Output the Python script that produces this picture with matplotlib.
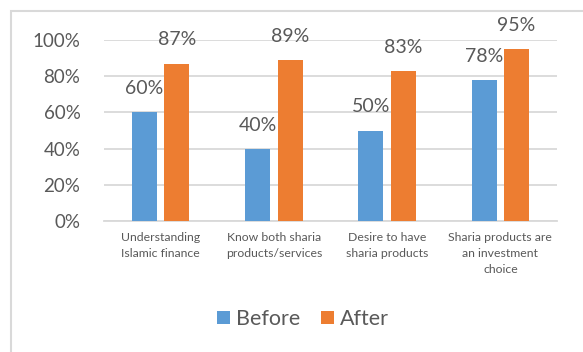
import matplotlib
matplotlib.use("Agg")
import matplotlib.pyplot as plt
from matplotlib.patches import Rectangle
import numpy as np

# data
categories = ["Understanding\nIslamic finance",
              "Know both sharia\nproducts/services",
              "Desire to have\nsharia products",
              "Sharia products are\nan investment\nchoice"]
before = [0.60, 0.40, 0.50, 0.78]
after = [0.87, 0.89, 0.83, 0.95]
yticks = [0, 0.2, 0.4, 0.6, 0.8, 1.0]
ytick_labels = ["0%", "20%", "40%", "60%", "80%", "100%"]

blue = "#5B9BD5"
orange = "#ED7D31"
txt = "#595959"
grid = "#D9D9D9"

plt.rcParams["font.family"] = ["Lato", "DejaVu Sans"]

fig = plt.figure(figsize=(5.83, 3.52), dpi=100)

# light grey chart frame (clipped at right/bottom like the screenshot)
fig.patches.append(Rectangle((11 / 583, -0.1), 1.2, 1 - 11 / 352 + 0.1,
                             transform=fig.transFigure, fill=False,
                             edgecolor="#D9D9D9", linewidth=1.5))

ax = fig.add_axes([104 / 583, 1 - 221 / 352, (557 - 104) / 583, (221 - 40) / 352])

x = np.arange(len(categories))
w = 0.22
off = 0.143
b1 = ax.bar(x - off, before, w, color=blue, label="Before", zorder=3)
b2 = ax.bar(x + off, after, w, color=orange, label="After", zorder=3)

for bars, vals in [(b1, before), (b2, after)]:
    for r, v in zip(bars, vals):
        ax.annotate(f"{round(v * 100)}%", (r.get_x() + r.get_width() / 2, v),
                    xytext=(0, 13), textcoords="offset points",
                    ha="center", va="baseline", fontsize=14, color=txt)

ax.set_xlim(-0.5, len(categories) - 0.5)
ax.set_ylim(0, 1)
ax.set_yticks(yticks)
ax.set_yticklabels(ytick_labels, fontsize=13.5, color=txt)
ax.set_xticks(x)
ax.set_xticklabels(categories, fontsize=8.8, color=txt, linespacing=1.55, va="top")
ax.tick_params(axis="y", length=0, pad=17)
ax.tick_params(axis="x", length=0, pad=8)

ax.yaxis.grid(True, color=grid, linewidth=1.3, zorder=0)
for s in ["top", "right", "left"]:
    ax.spines[s].set_visible(False)
ax.spines["bottom"].set_color(grid)
ax.spines["bottom"].set_linewidth(1.3)

fig.legend(handles=[b1, b2], loc="center", ncol=2,
           bbox_to_anchor=(303 / 583, 1 - 319 / 352),
           frameon=False, fontsize=15.5, labelcolor=txt,
           handlelength=0.6, handleheight=0.6, handletextpad=0.25,
           columnspacing=1.0)

fig.savefig("out.png", dpi=100)
